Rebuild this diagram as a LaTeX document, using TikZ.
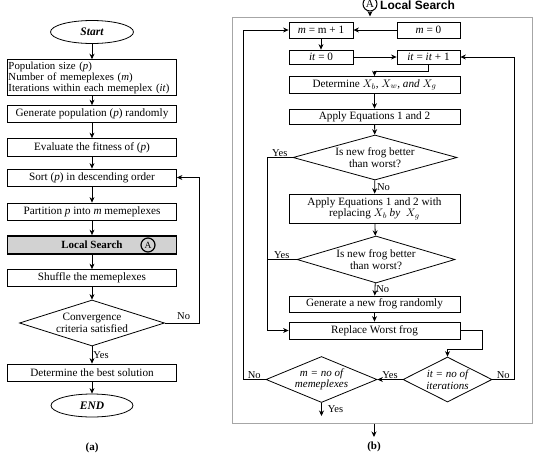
\documentclass[tikz,border=0pt]{standalone}
\usepackage{fontspec}
\setmainfont{Liberation Serif}
\newfontfamily\hdrfont{Liberation Sans}
\usetikzlibrary{arrows.meta,positioning,shapes.geometric}

\begin{document}
\begin{tikzpicture}[x=1pt, y=-1pt,
    every node/.style={font=\fontsize{11.2}{11.5}\selectfont},
    box/.style={rectangle, draw, line width=0.8pt, minimum width=169pt, minimum height=17pt, inner sep=2pt, align=center},
    rbox/.style={box, minimum width=171pt},
    sbox/.style={box, minimum width=64pt, minimum height=16pt},
    term/.style={ellipse, draw, line width=0.8pt, minimum width=83pt, minimum height=23pt, inner sep=0pt, font=\fontsize{11.5}{12}\selectfont\bfseries\itshape},
    dec/.style={diamond, draw, line width=0.8pt, inner sep=0pt, align=center},
    lbl/.style={font=\fontsize{10.5}{11}\selectfont},
    arrow/.style={-{Stealth[length=5.5pt,width=5pt]}, line width=0.8pt},
    line/.style={line width=0.8pt}
]
\useasboundingbox (0,0) rectangle (539,456);

% (a) main loop
\node[term] (start) at (92,32) {Start};
\node[box, minimum height=31pt, inner xsep=1pt, text width=167pt, align=left, font=\fontsize{10.8}{11}\selectfont] (par) at (92,77.5) {Population size (\textit{p})\\Number of memeplexes (\textit{m})\\Iterations within each memeplex (\textit{it})};
\node[box] (gen) at (92,114) {Generate population (\textit{p}) randomly};
\node[box, minimum height=18pt] (eval) at (92,147.5) {Evaluate the fitness of (\textit{p})};
\node[box] (sort) at (92,177.5) {Sort (\textit{p}) in descending order};
\node[box] (part) at (92,211.5) {Partition \textit{p} into \textit{m} memeplexes};
\node[box, fill=gray!35, line width=1.8pt, minimum height=18pt, font=\fontsize{11}{11.5}\selectfont\bfseries] (ls) at (92,245) {Local Search};
\node[circle, draw, line width=1.2pt, inner sep=0pt, minimum size=14pt, font=\fontsize{9.5}{10}\selectfont] (lsA) at (148,245) {A};
\node[box] (shuf) at (92,278) {Shuffle the memeplexes};
\node[dec, aspect=3.15, minimum width=145pt, minimum height=46pt] (conv) at (92,323) {Convergence\\criteria satisfied};
\node[box] (best) at (92,372.5) {Determine the best solution};
\node[term, minimum width=82pt] (endn) at (92,405.5) {END};
\node[font=\fontsize{11}{11.5}\selectfont\bfseries] (capa) at (92,448) {(a)};

\draw[arrow] (start) -- (par);
\draw[arrow] (par) -- (gen);
\draw[arrow] (gen) -- (eval);
\draw[arrow] (eval) -- (sort);
\draw[arrow] (sort) -- (part);
\draw[arrow] (part) -- (ls);
\draw[arrow] (ls) -- (shuf);
\draw[arrow] (shuf) -- (conv);
\draw[arrow] (conv) -- node[lbl, right, inner sep=1pt] {Yes} (best);
\draw[arrow] (best) -- (endn);
\draw[arrow] (conv.east) -- node[lbl, above, pos=0.55] {No} (199,323) |- (sort.east);

% (b) local search
\node[circle, draw, line width=1pt, inner sep=0pt, minimum size=14pt] (hdrA) at (370,4) {A};
\node[anchor=base west, inner sep=0pt, font=\fontsize{12}{13}\selectfont\hdrfont\bfseries] (hdr) at (380,9) {Local Search};
\node[draw=gray!70, line width=1pt, minimum width=300pt, minimum height=406pt] (frame) at (382,220) {};

\node[sbox] (mp1) at (321,30) {\textit{m} = m + 1};
\node[sbox, minimum width=63pt] (m0) at (428.5,30) {\textit{m} = 0};
\node[sbox, minimum height=14pt] (it0) at (321,57) {\textit{it} = 0};
\node[sbox, minimum width=63pt, minimum height=14pt] (itp1) at (428.5,57) {\textit{it} = \textit{it} + 1};
\node[rbox] (det) at (374.5,85) {Determine $X_b$, $X_w$, \textit{and} $X_g$};
\node[rbox, minimum height=15pt] (app) at (374.5,116.5) {Apply Equations 1 and 2};
\node[dec, aspect=3.6, minimum width=164pt, minimum height=45pt] (frog1) at (375,157.5) {Is new frog better\\than worst?};
\node[rbox, minimum height=29pt] (appr) at (374.5,208.5) {Apply Equations 1 and 2 with\\replacing $X_b$ \textit{by} \ $X_g$};
\node[dec, aspect=3.4, minimum width=158pt, minimum height=47pt] (frog2) at (376,259.5) {Is new frog better\\than worst?};
\node[rbox, minimum height=16pt] (gen2) at (374.5,304) {Generate a new frog randomly};
\node[rbox] (rep) at (374.5,330.5) {Replace Worst frog};
\node[dec, aspect=2, minimum width=89pt, minimum height=45pt, font=\fontsize{11}{11.5}\selectfont\itshape] (itdone) at (447.5,379.5) {it = no of\\iterations};
\node[dec, aspect=2.4, minimum width=111pt, minimum height=46pt, font=\fontsize{11}{11.5}\selectfont\itshape] (mdone) at (321.5,379.5) {m = no of\\memeplexes};
\node[font=\fontsize{11}{11.5}\selectfont\bfseries] (capb) at (374,447) {(b)};
\coordinate (outb) at (374,437);
\coordinate (outm) at (321.5,416);

\draw[arrow] (hdrA.south) -- (hdrA.south |- frame.north);
\draw[arrow] (m0) -- (mp1);
\draw[arrow] (mp1) -- (it0);
\draw[arrow] (it0) -- (itp1);
\draw[arrow] (itp1.south) -- ++(0,7) -| (det.north);
\draw[arrow] (det) -- (app);
\draw[arrow] (app) -- (frog1);
\draw[arrow] (frog1) -- node[lbl, right, inner sep=2pt] {No} (appr);
\draw[arrow] (appr) -- (frog2);
\draw[arrow] (frog2) -- node[lbl, right, inner sep=1pt] {No} (gen2);
\draw[arrow] (gen2) -- (rep);
\draw[arrow] (frog1.west) -- node[lbl, above, inner sep=1pt] {Yes} (267,157.5) |- (rep.west);
\draw[line] (frog2.west) -- node[lbl, above, inner sep=1pt] {Yes} (267,259.5);
\draw[arrow] (rep.east) -| (482,349) -| (itdone.north);
\draw[arrow] (itdone.west) -- node[lbl, above, inner sep=1pt] {Yes} (mdone.east);
\draw[arrow] (itdone.east) -- node[lbl, above, inner sep=1pt] {No} (514,379.5) |- (itp1.east);
\draw[arrow] (mdone.west) -- node[lbl, above, inner sep=1pt] {No} (243,379.5) |- (mp1.west);
\draw[arrow] (mdone.south) -- node[lbl, right, inner sep=6pt] {Yes} (outm);
\draw[arrow] (frame.south -| outb) -- (outb);
\end{tikzpicture}
\end{document}
